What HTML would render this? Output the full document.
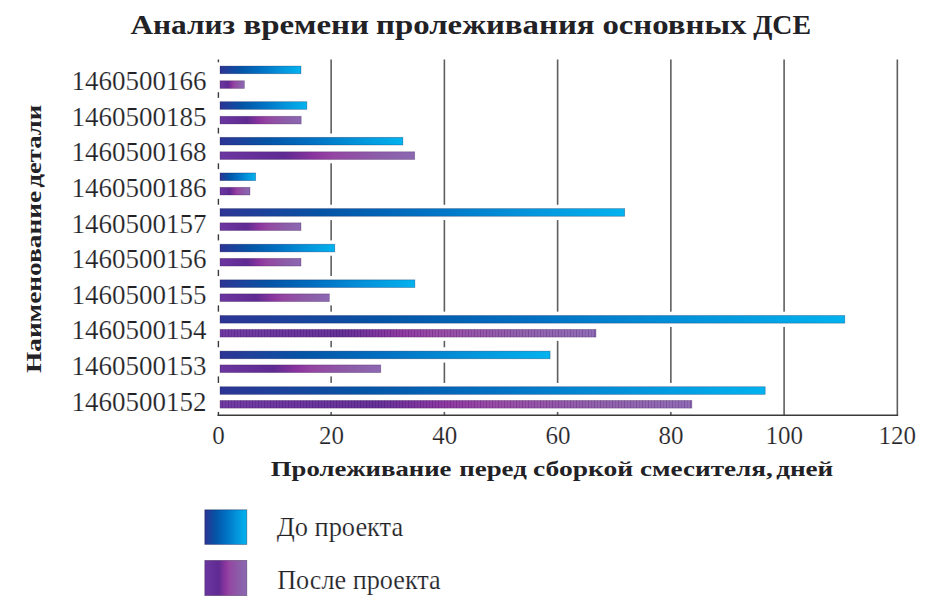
<!DOCTYPE html>
<html><head><meta charset="utf-8"><style>
html,body{margin:0;padding:0;background:#fff;}
body{width:944px;height:611px;overflow:hidden;}
svg{display:block;}
text{font-family:"Liberation Serif",serif;fill:#222226;}
.lt{fill:#222226;stroke:#fff;stroke-width:0.2px;}
</style></head><body>
<svg width="944" height="611" viewBox="0 0 944 611">
<defs>
<linearGradient id="gb" x1="0" y1="0" x2="1" y2="0">
<stop offset="0" stop-color="#2d3494"/>
<stop offset="0.25" stop-color="#0553a5"/>
<stop offset="0.5" stop-color="#0070c2"/>
<stop offset="0.75" stop-color="#0393da"/>
<stop offset="1" stop-color="#02b2ee"/>
</linearGradient>
<linearGradient id="gp" x1="0" y1="0" x2="1" y2="0">
<stop offset="0" stop-color="#6c36a0"/>
<stop offset="0.33" stop-color="#5f2b92"/>
<stop offset="0.48" stop-color="#8a349e"/>
<stop offset="0.58" stop-color="#9446a2"/>
<stop offset="0.8" stop-color="#8c5ca8"/>
<stop offset="1" stop-color="#8c68b2"/>
</linearGradient>
<pattern id="stripes" x="0" y="0" width="6" height="10" patternUnits="userSpaceOnUse">
<rect x="0" y="0" width="1" height="10" fill="rgba(60,0,90,0.2)"/>
<rect x="3" y="0" width="1" height="10" fill="rgba(60,0,90,0.1)"/>
<rect x="1.5" y="0" width="1" height="10" fill="rgba(255,255,255,0.07)"/>
<rect x="4.5" y="0" width="1" height="10" fill="rgba(255,255,255,0.07)"/>
</pattern>
</defs>

<text x="130.4" y="33.8" font-size="28" font-weight="bold" textLength="104.83" lengthAdjust="spacingAndGlyphs">Анализ</text>
<text x="243.4" y="33.8" font-size="28" font-weight="bold" textLength="125.63" lengthAdjust="spacingAndGlyphs">времени</text>
<text x="376" y="33.8" font-size="28" font-weight="bold" textLength="218.61" lengthAdjust="spacingAndGlyphs">пролеживания</text>
<text x="602.4" y="33.8" font-size="28" font-weight="bold" textLength="144.02" lengthAdjust="spacingAndGlyphs">основных</text>
<text x="753.2" y="33.8" font-size="28" font-weight="bold" textLength="57.87" lengthAdjust="spacingAndGlyphs">ДСЕ</text>
<text x="270.8" y="475.6" font-size="21" font-weight="bold" textLength="180.61" lengthAdjust="spacingAndGlyphs">Пролеживание</text>
<text x="459.2" y="475.6" font-size="21" font-weight="bold" textLength="67.63" lengthAdjust="spacingAndGlyphs">перед</text>
<text x="533" y="475.6" font-size="21" font-weight="bold" textLength="100.23" lengthAdjust="spacingAndGlyphs">сборкой</text>
<text x="640" y="475.6" font-size="21" font-weight="bold" textLength="132.85" lengthAdjust="spacingAndGlyphs">смесителя,</text>
<text x="776.2" y="475.6" font-size="21" font-weight="bold" textLength="57.06" lengthAdjust="spacingAndGlyphs">дней</text>
<text transform="translate(41,373) rotate(-90)" font-size="21" font-weight="bold" textLength="182.02" lengthAdjust="spacingAndGlyphs">Наименование</text>
<text transform="translate(41,187.4) rotate(-90)" font-size="21" font-weight="bold" textLength="82.42" lengthAdjust="spacingAndGlyphs">детали</text>
<text x="206.6" y="90.2" text-anchor="end" font-size="27" class="lt">1460500166</text>
<text x="206.6" y="125.8" text-anchor="end" font-size="27" class="lt">1460500185</text>
<text x="206.6" y="161.4" text-anchor="end" font-size="27" class="lt">1460500168</text>
<text x="206.6" y="197" text-anchor="end" font-size="27" class="lt">1460500186</text>
<text x="206.6" y="232.6" text-anchor="end" font-size="27" class="lt">1460500157</text>
<text x="206.6" y="268.2" text-anchor="end" font-size="27" class="lt">1460500156</text>
<text x="206.6" y="303.8" text-anchor="end" font-size="27" class="lt">1460500155</text>
<text x="206.6" y="339.4" text-anchor="end" font-size="27" class="lt">1460500154</text>
<text x="206.6" y="375" text-anchor="end" font-size="27" class="lt">1460500153</text>
<text x="206.6" y="410.6" text-anchor="end" font-size="27" class="lt">1460500152</text>
<text x="218.4" y="444" text-anchor="middle" font-size="25" class="lt">0</text>
<text x="331.56" y="444" text-anchor="middle" font-size="25" class="lt">20</text>
<text x="444.72" y="444" text-anchor="middle" font-size="25" class="lt">40</text>
<text x="557.88" y="444" text-anchor="middle" font-size="25" class="lt">60</text>
<text x="671.04" y="444" text-anchor="middle" font-size="25" class="lt">80</text>
<text x="784.2" y="444" text-anchor="middle" font-size="25" class="lt">100</text>
<text x="897.36" y="444" text-anchor="middle" font-size="25" class="lt">120</text>
<line x1="331.14" y1="59.4" x2="331.14" y2="415.3" stroke="#5e5e5e" stroke-width="1.6"/>
<line x1="444.38" y1="59.4" x2="444.38" y2="415.3" stroke="#5e5e5e" stroke-width="1.6"/>
<line x1="557.62" y1="59.4" x2="557.62" y2="415.3" stroke="#5e5e5e" stroke-width="1.6"/>
<line x1="670.86" y1="59.4" x2="670.86" y2="415.3" stroke="#5e5e5e" stroke-width="1.6"/>
<line x1="784.1" y1="59.4" x2="784.1" y2="415.3" stroke="#5e5e5e" stroke-width="1.6"/>
<line x1="897.34" y1="59.4" x2="897.34" y2="415.3" stroke="#5e5e5e" stroke-width="1.6"/>
<line x1="218.4" y1="59.4" x2="218.4" y2="416.1" stroke="#3a3a3a" stroke-width="1.4"/>
<line x1="217.6" y1="415.3" x2="898.16" y2="415.3" stroke="#3a3a3a" stroke-width="1.4"/>
<rect x="216.2" y="62.25" width="88.6" height="15.3" fill="#fff"/>
<rect x="216.2" y="76.95" width="32" height="15.3" fill="#fff"/>
<rect x="216.2" y="97.88" width="94.5" height="15.3" fill="#fff"/>
<rect x="216.2" y="112.47" width="88.8" height="15.3" fill="#fff"/>
<rect x="216.2" y="133.51" width="190.5" height="15.3" fill="#fff"/>
<rect x="216.2" y="147.99" width="202.3" height="15.3" fill="#fff"/>
<rect x="216.2" y="169.14" width="43.3" height="15.3" fill="#fff"/>
<rect x="216.2" y="183.51" width="37.6" height="15.3" fill="#fff"/>
<rect x="216.2" y="204.77" width="412.3" height="15.3" fill="#fff"/>
<rect x="216.2" y="219.03" width="88.6" height="15.3" fill="#fff"/>
<rect x="216.2" y="240.4" width="122.4" height="15.3" fill="#fff"/>
<rect x="216.2" y="254.55" width="88.6" height="15.3" fill="#fff"/>
<rect x="216.2" y="276.03" width="202.5" height="15.3" fill="#fff"/>
<rect x="216.2" y="290.07" width="117" height="15.3" fill="#fff"/>
<rect x="216.2" y="311.66" width="632.4" height="15.3" fill="#fff"/>
<rect x="216.2" y="325.59" width="383.6" height="15.3" fill="#fff"/>
<rect x="216.2" y="347.29" width="337.7" height="15.3" fill="#fff"/>
<rect x="216.2" y="361.11" width="168.4" height="15.3" fill="#fff"/>
<rect x="216.2" y="382.92" width="552.8" height="15.3" fill="#fff"/>
<rect x="216.2" y="396.63" width="479.5" height="15.3" fill="#fff"/>
<rect x="220" y="66.05" width="81" height="7.7" fill="url(#gb)" stroke="rgba(10,10,60,0.35)" stroke-width="0.7"/>
<rect x="220" y="80.75" width="24.4" height="7.7" fill="url(#gp)" stroke="rgba(40,10,60,0.35)" stroke-width="0.7"/>
<rect x="220" y="101.68" width="86.9" height="7.7" fill="url(#gb)" stroke="rgba(10,10,60,0.35)" stroke-width="0.7"/>
<rect x="220" y="116.27" width="81.2" height="7.7" fill="url(#gp)" stroke="rgba(40,10,60,0.35)" stroke-width="0.7"/>
<rect x="220" y="137.31" width="182.9" height="7.7" fill="url(#gb)" stroke="rgba(10,10,60,0.35)" stroke-width="0.7"/>
<rect x="220" y="151.79" width="194.7" height="7.7" fill="url(#gp)" stroke="rgba(40,10,60,0.35)" stroke-width="0.7"/>
<rect x="220" y="172.94" width="35.7" height="7.7" fill="url(#gb)" stroke="rgba(10,10,60,0.35)" stroke-width="0.7"/>
<rect x="220" y="187.31" width="30" height="7.7" fill="url(#gp)" stroke="rgba(40,10,60,0.35)" stroke-width="0.7"/>
<rect x="220" y="208.57" width="404.7" height="7.7" fill="url(#gb)" stroke="rgba(10,10,60,0.35)" stroke-width="0.7"/>
<rect x="220" y="222.83" width="81" height="7.7" fill="url(#gp)" stroke="rgba(40,10,60,0.35)" stroke-width="0.7"/>
<rect x="220" y="244.2" width="114.8" height="7.7" fill="url(#gb)" stroke="rgba(10,10,60,0.35)" stroke-width="0.7"/>
<rect x="220" y="258.35" width="81" height="7.7" fill="url(#gp)" stroke="rgba(40,10,60,0.35)" stroke-width="0.7"/>
<rect x="220" y="279.83" width="194.9" height="7.7" fill="url(#gb)" stroke="rgba(10,10,60,0.35)" stroke-width="0.7"/>
<rect x="220" y="293.87" width="109.4" height="7.7" fill="url(#gp)" stroke="rgba(40,10,60,0.35)" stroke-width="0.7"/>
<rect x="220" y="315.46" width="624.8" height="7.7" fill="url(#gb)" stroke="rgba(10,10,60,0.35)" stroke-width="0.7"/>
<rect x="220" y="329.39" width="376" height="7.7" fill="url(#gp)" stroke="rgba(40,10,60,0.35)" stroke-width="0.7"/>
<rect x="220" y="351.09" width="330.1" height="7.7" fill="url(#gb)" stroke="rgba(10,10,60,0.35)" stroke-width="0.7"/>
<rect x="220" y="364.91" width="160.8" height="7.7" fill="url(#gp)" stroke="rgba(40,10,60,0.35)" stroke-width="0.7"/>
<rect x="220" y="386.72" width="545.2" height="7.7" fill="url(#gb)" stroke="rgba(10,10,60,0.35)" stroke-width="0.7"/>
<rect x="220" y="400.43" width="471.9" height="7.7" fill="url(#gp)" stroke="rgba(40,10,60,0.35)" stroke-width="0.7"/>
<rect x="220" y="329.39" width="376" height="7.7" fill="url(#stripes)"/>
<rect x="220" y="400.43" width="471.9" height="7.7" fill="url(#stripes)"/>
<rect x="204.8" y="509.8" width="42" height="34.6" fill="url(#gb)" stroke="rgba(10,10,60,0.45)" stroke-width="0.8"/>
<rect x="204.8" y="560.4" width="42" height="35.2" fill="url(#gp)" stroke="rgba(40,10,60,0.45)" stroke-width="0.8"/>
<text x="276.7" y="535.5" font-size="27" textLength="126.5" lengthAdjust="spacingAndGlyphs" class="lt">До проекта</text>
<text x="277.2" y="588.5" font-size="27" textLength="163.5" lengthAdjust="spacingAndGlyphs" class="lt">После проекта</text>
</svg>
</body></html>
